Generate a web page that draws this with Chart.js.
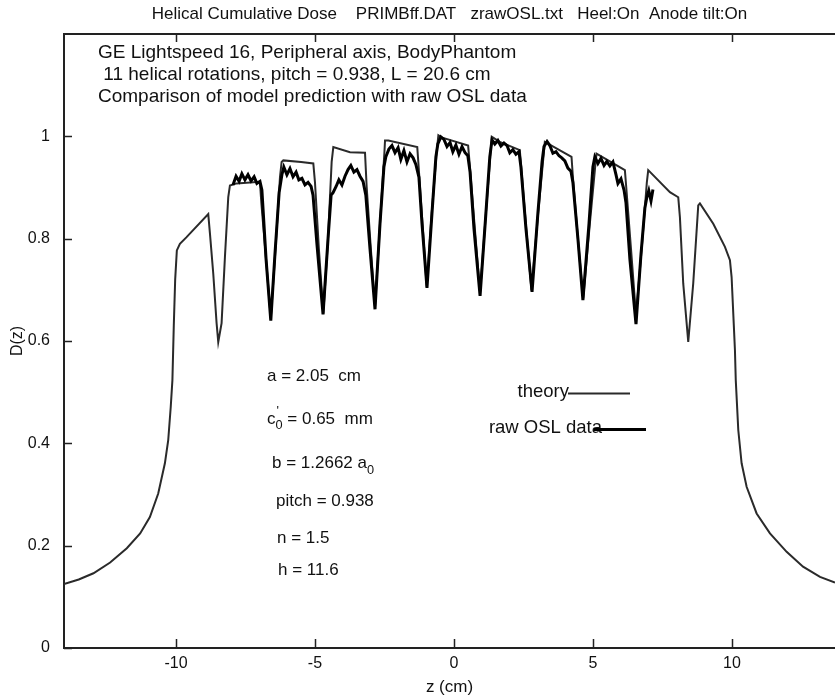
<!DOCTYPE html>
<html><head><meta charset="utf-8">
<script src="https://cdn.jsdelivr.net/npm/chart.js@4.4.1/dist/chart.umd.min.js"></script>
<style>html,body{margin:0;padding:0;background:#fff;overflow:hidden}#wrap{width:835px;height:699px;position:relative}</style>
</head><body><div id="wrap"><canvas id="c" width="835" height="699"></canvas></div>
<script>
const TITLE = "Helical Cumulative Dose    PRIMBff.DAT   zrawOSL.txt   Heel:On  Anode tilt:On";
const X_TITLE = "z (cm)";
const Y_TITLE = "D(z)";
const X_TICKS = [-10, -5, 0, 5, 10];
const Y_TICKS = [0, 0.2, 0.4, 0.6, 0.8, 1];
const Y_TICK_LABELS = ["0", "0.2", "0.4", "0.6", "0.8", "1"];
const HEADER_LINES = ["GE Lightspeed 16, Peripheral axis, BodyPhantom", " 11 helical rotations, pitch = 0.938, L = 20.6 cm", "Comparison of model prediction with raw OSL data"];
const SERIES_NAMES = ["theory", "raw OSL data"];

const THEORY_Z = [-14.1,-14.03,-13.5,-12.97,-12.37,-11.77,-11.29,-10.94,-10.64,-10.40,-10.28,-10.19,-10.13,-10.08,-10.03,-9.97,-9.86,-9.62,-8.84,-8.78,-8.66,-8.54,-8.48,-8.36,-8.24,-8.12,-8.06,-7.82,-6.98,
 -6.93,-6.76,-6.59,-6.42,-6.26,-6.20,-6.14,-5.5,-5.06,-5.0,-4.86,-4.70,-4.54,-4.40,-4.34,-3.74,-3.20,-3.14,-2.99,-2.84,-2.66,-2.50,-2.48,-2.36,-1.32,-1.27,-1.12,-0.98,-0.80,-0.62,-0.56,-0.45,0.51,0.56,0.75,0.94,1.15,1.32,1.36,1.65,2.37,2.42,2.60,2.79,3.03,3.22,3.27,4.23,4.28,4.46,4.65,4.89,5.08,5.13,6.15,6.20,6.37,6.55,6.77,6.94,6.99,7.77,8.07,8.13,8.25,8.43,8.61,8.79,8.85,9.33,9.75,9.93,9.99,10.07,10.11,10.14,10.23,10.35,10.53,10.89,11.37,11.97,12.56,13.17,13.71,14.0];
const THEORY_D = [0.123,0.125,0.134,0.146,0.167,0.195,0.224,0.256,0.302,0.361,0.406,0.471,0.523,0.630,0.720,0.777,0.790,0.803,0.848,0.811,0.732,0.635,0.598,0.635,0.764,0.881,0.904,0.908,0.911,
 0.870,0.760,0.644,0.780,0.920,0.950,0.953,0.950,0.947,0.910,0.780,0.654,0.790,0.950,0.979,0.969,0.968,0.901,0.780,0.667,0.830,0.970,0.992,0.992,0.979,0.940,0.820,0.706,0.850,0.970,1.002,0.998,0.982,0.950,0.820,0.695,0.850,0.970,0.999,0.989,0.973,0.940,0.820,0.699,0.850,0.960,0.989,0.960,0.920,0.800,0.683,0.830,0.940,0.966,0.934,0.900,0.780,0.650,0.790,0.910,0.934,0.891,0.881,0.842,0.712,0.598,0.713,0.865,0.869,0.829,0.784,0.758,0.725,0.630,0.582,0.523,0.426,0.361,0.315,0.263,0.224,0.188,0.159,0.139,0.128,0.124];

const OSL_Z = [-7.95,-7.84,-7.73,-7.63,-7.52,-7.41,-7.30,-7.19,-7.09,-6.98,-6.91,-6.76,-6.59,-6.44,-6.29,
 -6.19,-6.12,-6.01,-5.90,-5.79,-5.68,-5.58,-5.47,-5.36,-5.25,-5.14,-5.07,-4.93,-4.71,-4.53,-4.42,
 -4.35,-4.24,-4.14,-4.03,-3.92,-3.81,-3.71,-3.60,-3.49,-3.38,-3.27,-3.17,-3.02,-2.84,-2.66,-2.52,
 -2.45,-2.34,-2.23,-2.12,-2.01,-1.91,-1.80,-1.69,-1.58,-1.47,-1.37,-1.26,-1.15,-0.97,-0.79,-0.65,
 -0.58,-0.47,-0.36,-0.25,-0.14,-0.04,0.07,0.18,0.29,0.40,0.50,0.58,0.72,0.94,1.15,1.29,
 1.37,1.47,1.58,1.69,1.80,1.91,2.01,2.12,2.23,2.34,2.41,2.59,2.81,3.02,3.17,
 3.24,3.35,3.45,3.56,3.67,3.78,3.88,3.99,4.10,4.21,4.28,4.46,4.64,4.86,5.00,
 5.07,5.18,5.29,5.40,5.50,5.61,5.72,5.83,5.90,6.01,6.12,6.19,6.33,6.55,6.73,6.87,
 6.94,7.01,7.09,7.16];
const OSL_D = [0.905,0.922,0.912,0.927,0.915,0.925,0.913,0.921,0.908,0.912,0.895,0.760,0.640,0.770,0.890,
 0.925,0.940,0.925,0.937,0.921,0.930,0.915,0.918,0.905,0.910,0.902,0.885,0.790,0.652,0.800,0.885,
 0.890,0.902,0.915,0.905,0.922,0.935,0.943,0.930,0.935,0.922,0.912,0.885,0.780,0.662,0.830,0.940,
 0.960,0.975,0.982,0.968,0.978,0.955,0.972,0.950,0.966,0.958,0.945,0.920,0.830,0.704,0.850,0.960,
 0.985,0.999,0.994,0.980,0.988,0.970,0.983,0.965,0.980,0.968,0.962,0.930,0.820,0.688,0.850,0.960,
 0.993,0.985,0.992,0.981,0.987,0.982,0.968,0.974,0.965,0.970,0.940,0.820,0.696,0.850,0.950,
 0.980,0.990,0.982,0.967,0.970,0.962,0.958,0.952,0.938,0.932,0.910,0.800,0.680,0.830,0.940,
 0.960,0.947,0.957,0.943,0.951,0.942,0.950,0.925,0.908,0.917,0.895,0.870,0.760,0.633,0.770,0.860,
 0.881,0.894,0.874,0.896];

const FONT = "'Liberation Sans', Arial, Helvetica, sans-serif";
const INK = '#111';

function seg(ctx, x, y, parts, size) {
  // parts: [text, kind] kind: '' normal, 'sup', 'sub', 'stack' (sup over sub)
  let cx = x;
  for (const p of parts) {
    const [t, k, t2] = p;
    if (k === 'stack') {
      ctx.font = (size * 0.75) + 'px ' + FONT;
      ctx.fillText(t, cx + 1, y - size * 0.55);
      ctx.fillText(t2, cx, y + size * 0.28);
      cx += ctx.measureText(t2).width;
    } else if (k === 'sub') {
      ctx.font = (size * 0.75) + 'px ' + FONT;
      ctx.fillText(t, cx, y + size * 0.35);
      cx += ctx.measureText(t).width;
    } else {
      ctx.font = size + 'px ' + FONT;
      ctx.fillText(t, cx, y);
      cx += ctx.measureText(t).width;
    }
  }
}

const framePlugin = {
  id: 'frame',
  afterDraw(chart) {
    const {ctx, chartArea: a, scales: {x, y}} = chart;
    ctx.save();
    ctx.strokeStyle = '#222';
    ctx.lineWidth = 2;
    ctx.beginPath(); ctx.moveTo(a.left - 1, a.top); ctx.lineTo(a.right, a.top); ctx.stroke();
    ctx.lineWidth = 1.5;
    ctx.beginPath();
    x.ticks.forEach(t => {
      const px = Math.round(x.getPixelForValue(t.value)) + 0.5;
      ctx.moveTo(px, a.bottom); ctx.lineTo(px, a.bottom - 9);
      ctx.moveTo(px, a.top); ctx.lineTo(px, a.top + 8);
    });
    y.ticks.forEach(t => {
      const py = Math.round(y.getPixelForValue(t.value)) + 0.5;
      ctx.moveTo(a.left, py); ctx.lineTo(a.left + 8, py);
    });
    ctx.stroke();

    // header text
    ctx.fillStyle = INK;
    ctx.textBaseline = 'alphabetic';
    ctx.textAlign = 'left';
    ctx.font = '19px ' + FONT;
    const hb = [58, 80, 102];
    HEADER_LINES.forEach((l, i) => ctx.fillText(l, 98, hb[i]));

    // parameters
    const S = 17;
    seg(ctx, 267, 381, [["a = 2.05  cm", '']], S);
    seg(ctx, 267, 424, [["c", ''], ["'", 'stack', "0"], [" = 0.65  mm", '']], S);
    seg(ctx, 272, 468, [["b = 1.2662 a", ''], ["0", 'sub']], S);
    seg(ctx, 276, 506, [["pitch = 0.938", '']], S);
    seg(ctx, 277, 543, [["n = 1.5", '']], S);
    seg(ctx, 278, 575, [["h = 11.6", '']], S);

    // legend
    const ds = chart.data.datasets;
    ctx.font = '18.5px ' + FONT;
    ctx.textAlign = 'right';
    ctx.fillText(ds[0].label, 569, 397);
    ctx.fillText(ds[1].label, 602, 433);
    ctx.lineWidth = ds[0].borderWidth; ctx.strokeStyle = ds[0].borderColor;
    ctx.beginPath(); ctx.moveTo(568, 393.5); ctx.lineTo(630, 393.5); ctx.stroke();
    ctx.lineWidth = ds[1].borderWidth; ctx.strokeStyle = ds[1].borderColor;
    ctx.beginPath(); ctx.moveTo(594, 429.5); ctx.lineTo(646, 429.5); ctx.stroke();
    ctx.restore();
  }
};

new Chart(document.getElementById('c'), {
  type: 'line',
  data: {
    datasets: [
      {label: SERIES_NAMES[0], data: THEORY_Z.map((z, i) => ({x: z, y: THEORY_D[i]})), borderColor: '#2a2a2a', borderWidth: 2, pointRadius: 0, tension: 0, order: 2},
      {label: SERIES_NAMES[1], data: OSL_Z.map((z, i) => ({x: z, y: OSL_D[i]})), borderColor: '#000', borderWidth: 3, pointRadius: 0, tension: 0, order: 1}
    ]
  },
  options: {
    responsive: false, animation: false, devicePixelRatio: 1,
    layout: {padding: 0},
    plugins: {
      legend: {display: false}, tooltip: {enabled: false},
      title: {display: true, text: TITLE, fullSize: false, color: INK, font: {family: FONT, size: 17, weight: 'normal'}, padding: {top: 4, bottom: 9.6}}
    },
    scales: {
      x: {
        type: 'linear', min: -14.03, max: 13.71,
        afterBuildTicks: s => { s.ticks = X_TICKS.map(v => ({value: v})); },
        afterFit: s => { s.height = 51; },
        ticks: {color: INK, font: {family: FONT, size: 16}, padding: 6, maxRotation: 0, autoSkip: false, callback: v => String(v)},
        grid: {display: true, drawOnChartArea: false, drawTicks: false},
        border: {display: true, color: '#222', width: 2},
        title: {display: true, text: X_TITLE, color: INK, font: {family: FONT, size: 17}, padding: {top: 0, bottom: 1}}
      },
      y: {
        min: 0, max: 1.2,
        afterBuildTicks: s => { s.ticks = Y_TICKS.map(v => ({value: v})); },
        afterFit: s => { s.width = 64; },
        ticks: {color: INK, font: {family: FONT, size: 16}, padding: 14, autoSkip: false, callback: v => { const i = Y_TICKS.indexOf(v); return i >= 0 ? Y_TICK_LABELS[i] : ''; }},
        grid: {display: true, drawOnChartArea: false, drawTicks: false},
        border: {display: true, color: '#222', width: 2},
        title: {display: true, text: Y_TITLE, color: INK, font: {family: FONT, size: 16}, padding: {top: 8, bottom: 0}}
      }
    }
  },
  plugins: [framePlugin]
});
</script></body></html>
